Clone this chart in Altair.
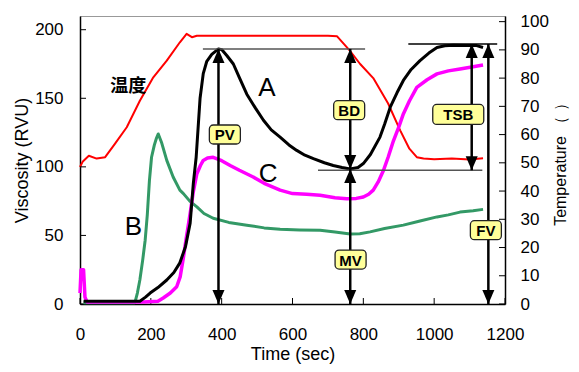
import altair as alt
import pandas as pd

# ---------------- data ----------------
# Curve A (black), viscosity RVU
a_time = [10, 50, 100, 150, 169, 185, 198, 220, 245, 265, 282, 298, 311, 320, 328, 339, 348, 358, 372, 386, 391,
          400, 415, 433, 450, 471, 495, 518, 540, 565, 590, 612, 635, 659, 690, 715, 740, 763, 785, 800, 820,
          847, 860, 876, 895, 913, 935, 960, 985, 1008, 1030, 1054, 1090, 1120, 1138]
a_visc = [2, 2, 2, 2, 2, 5, 8, 12, 17.5, 23, 30, 42, 59, 88, 107, 150, 168, 177, 182, 185, 186,
          185.5, 181, 175, 165, 153, 143, 134, 127, 121.7, 116, 112, 108.5, 106, 103, 101, 99.5, 98.5, 99.5, 102.4, 109,
          121.7, 131, 143.5, 154, 163, 171, 177.5, 183, 187, 188.3, 188.6, 188.5, 188.4, 187]

# Curve B (green)
b_time = [10, 50, 100, 140, 155, 162, 169, 177, 184, 190, 196, 202, 210, 216, 221, 230, 245, 263, 282, 292, 310,
          330, 350, 376, 420, 471, 520, 565, 620, 678, 720, 763, 790, 819, 860, 913, 960, 1008, 1040, 1073, 1110, 1138]
b_visc = [1, 1, 1, 1, 1, 8, 17.5, 32, 46.5, 65, 90, 107, 116, 121, 124, 118, 104.7, 92.6, 83, 80.5, 75,
          70.8, 66, 62.5, 59.5, 57.5, 55.5, 54.5, 54, 53.8, 52.5, 51, 51.2, 52.6, 55, 57.5, 60.5, 63.5, 65, 67, 68, 69]

# Curve C (magenta)
c_time = [0, 3, 10, 14, 20, 60, 120, 180, 220, 235, 255, 273, 283, 292, 300, 311, 320, 330, 340, 348, 360, 376,
          400, 424, 450, 489, 520, 565, 600, 640, 678, 720, 753, 780, 800, 815, 828, 842, 857, 870, 885, 900, 913,
          930, 951, 980, 1008, 1040, 1073, 1110, 1138]
c_visc = [8, 25, 25, 5, 1.5, 1.5, 1.5, 1.5, 2, 4.4, 8, 12.6, 20, 34, 48, 66, 82, 95, 101, 104.7, 106.5, 107,
          104.5, 101, 97.5, 92.6, 88, 83, 80.5, 80, 79.3, 77.5, 76.8, 77, 78, 80, 83, 89, 97.5, 107, 119, 129, 138.6,
          148, 158, 163.5, 167.8, 170, 171.4, 173, 174.3]

# Temperature (red), deg C on right axis
temp_time = [0, 8, 25, 47, 71, 99, 132, 169, 207, 245, 282, 301, 316, 330, 400, 500, 600, 700, 726, 760, 791,
             828, 870, 904, 930, 951, 970, 1000, 1050, 1100, 1138]
temp_val = [48.5, 50.5, 52.5, 51.5, 52, 56.8, 62.6, 72, 80.3, 86.2, 92.7, 95.7, 94.5, 95, 95, 95, 95, 95, 94.8, 90,
            85, 80, 71, 61.5, 55, 52, 51.5, 51.3, 51.5, 51.2, 51.6]

# Curve name labels
curve_names = ["A", "B", "C"]
curve_name_t = [528, 151, 531]
curve_name_v = [158.5, 56.6, 95.6]
temp_label = ["温度"]
temp_label_t = [136]
temp_label_v = [158.5]

# Reference lines (peak, trough, final)
ref_t1 = [347, 672, 927]
ref_t2 = [805, 1136, 1178]
ref_v = [186, 97.5, 189.6]
ref_color = ["#555555", "#555555", "#000000"]

# Double arrows
arrow_names = ["PV", "BD", "MV", "TSB", "FV"]
arrow_t = [391, 763, 763, 1106, 1153]
arrow_top = [186, 186, 98.5, 189.6, 189.6]
arrow_bottom = [0, 98.5, 0, 97.5, 0]

# Label boxes
box_names = ["PV", "BD", "MV", "TSB", "FV"]
box_t = [409, 760, 764, 1068, 1146]
box_v = [123.6, 141.3, 32.4, 138.2, 53.8]

x_ticks = [0, 200, 400, 600, 800, 1000, 1200]
visc_ticks = [0, 50, 100, 150, 200]
temp_ticks = [0, 10, 20, 30, 40, 50, 60, 70, 80, 90, 100]

# ---------------- chart ----------------
W, H = 425, 288
FONT = "Liberation Sans"
xs = alt.Scale(domain=[0, 1200], nice=False, zero=False)
vs = alt.Scale(domain=[0, 210], nice=False)
ts = alt.Scale(domain=[0, 102], nice=False)

x_axis = alt.Axis(values=x_ticks, orient="bottom", format="d", title="Time (sec)", labelFontSize=17,
                  labelFont=FONT, labelColor="black", labelPadding=22, ticks=False, tickSize=0,
                  domainColor="black", domainWidth=1.5, grid=False, labelFlush=False, labelOverlap=False,
                  titleFontSize=18, titleFont=FONT, titleFontWeight="normal", titleColor="black",
                  titleX=212.5, titleY=50, titleBaseline="middle", titleAlign="center")
v_axis = alt.Axis(values=visc_ticks, orient="left", format="d", title="Viscosity (RVU)", labelFontSize=17,
                  labelFont=FONT, labelColor="black", labelPadding=17, ticks=False, tickSize=0,
                  domainColor="black", domainWidth=1.5, grid=False, labelOverlap=False, labelFlush=False,
                  titleFontSize=18, titleFont=FONT, titleFontWeight="normal", titleColor="black",
                  titleAngle=270, titleX=-58, titleY=144, titleBaseline="middle", titleAlign="center")
t_axis = alt.Axis(values=temp_ticks, orient="right", format="d", title="Temperature （  ）", labelFontSize=17,
                  labelFont=FONT, labelColor="black", labelPadding=15, ticks=False, tickSize=0,
                  domainColor="black", domainWidth=1.5, grid=False, labelOverlap=False, labelFlush=False,
                  titleFontSize=16, titleFont=FONT, titleFontWeight="normal", titleColor="black",
                  titleAngle=270, titleX=55, titleY=144, titleBaseline="middle", titleAlign="center")


def X(field):
    return alt.X(field, scale=xs, axis=x_axis)


def YV(field):
    return alt.Y(field, scale=vs, axis=v_axis)


def YT(field):
    return alt.Y(field, scale=ts, axis=t_axis)


def line(times, vals, color, width, yfun):
    df = pd.DataFrame({"t": times, "v": vals})
    return alt.Chart(df).mark_line(color=color, strokeWidth=width, strokeJoin="round").encode(
        x=X("t:Q"), y=yfun("v:Q"))


# temperature group (right axis)
temp_line = line(temp_time, temp_val, "#ff0000", 2, YT)
temp_tick = alt.Chart(pd.DataFrame({"v": temp_ticks})).mark_rule(color="black", strokeWidth=1).encode(
    y=YT("v:Q"), x=alt.value(W), x2=alt.value(W - 6))
temp_group = alt.layer(temp_tick, temp_line)

# viscosity group (left axis)
left_tick = alt.Chart(pd.DataFrame({"v": visc_ticks})).mark_rule(color="black", strokeWidth=1).encode(
    y=YV("v:Q"), x=alt.value(0), x2=alt.value(6))
bottom_tick = alt.Chart(pd.DataFrame({"t": x_ticks})).mark_rule(color="black", strokeWidth=1).encode(
    x=X("t:Q"), y=alt.value(H), y2=alt.value(H - 6))

green = line(b_time, b_visc, "#339966", 3, YV)
magenta = line(c_time, c_visc, "#ff00ff", 3.5, YV)
black = line(a_time, a_visc, "#000000", 3, YV)

ref_df = pd.DataFrame({"t1": ref_t1, "t2": ref_t2, "v": ref_v, "c": ref_color})
refs = alt.Chart(ref_df).mark_rule(strokeWidth=1.5).encode(
    x=X("t1:Q"), x2="t2:Q", y=YV("v:Q"), color=alt.Color("c:N", scale=None))

arr_df = pd.DataFrame({"name": arrow_names, "t": arrow_t, "top": arrow_top, "bottom": arrow_bottom})
shafts = alt.Chart(arr_df).mark_rule(color="black", strokeWidth=2.5).encode(
    x=X("t:Q"), y=YV("top:Q"), y2="bottom:Q")
up_heads = alt.Chart(arr_df).mark_point(shape="M0,0L0.43,1L-0.43,1Z", filled=True, color="black",
                                        size=784, opacity=1).encode(x=X("t:Q"), y=YV("top:Q"))
down_heads = alt.Chart(arr_df).mark_point(shape="M0,0L0.43,-1L-0.43,-1Z", filled=True, color="black",
                                          size=784, opacity=1).encode(x=X("t:Q"), y=YV("bottom:Q"))

box_df = pd.DataFrame({"name": box_names, "t": box_t, "v": box_v})
small_boxes = alt.Chart(box_df).transform_filter("length(datum.name) < 3").mark_rect(
    width=31, height=19, cornerRadius=4, fill="#ffff99", stroke="#222222", strokeWidth=1.3).encode(
    x=X("t:Q"), y=YV("v:Q"))
wide_boxes = alt.Chart(box_df).transform_filter("length(datum.name) >= 3").mark_rect(
    width=51, height=20, cornerRadius=4, fill="#ffff99", stroke="#222222", strokeWidth=1.3).encode(
    x=X("t:Q"), y=YV("v:Q"))
box_text = alt.Chart(box_df).mark_text(font=FONT, fontWeight="bold", fontSize=15, color="black",
                                       align="center", baseline="middle", dy=1).encode(
    x=X("t:Q"), y=YV("v:Q"), text="name:N")

names_df = pd.DataFrame({"name": curve_names, "t": curve_name_t, "v": curve_name_v})
names = alt.Chart(names_df).mark_text(font=FONT, fontSize=26, color="black", align="center",
                                      baseline="middle", dy=1).encode(
    x=X("t:Q"), y=YV("v:Q"), text="name:N")

tl_df = pd.DataFrame({"name": temp_label, "t": temp_label_t, "v": temp_label_v})
tlabel = alt.Chart(tl_df).mark_text(font="Noto Sans CJK SC", fontWeight="bold", fontSize=18, color="black",
                                    align="center", baseline="middle").encode(
    x=X("t:Q"), y=YV("v:Q"), text="name:N")

visc_group = alt.layer(left_tick, bottom_tick, green, magenta, black, refs, shafts, up_heads, down_heads,
                       small_boxes, wide_boxes, box_text, names, tlabel)

chart = alt.layer(temp_group, visc_group).resolve_scale(y="independent").properties(
    width=W, height=H,
    autosize=alt.AutoSizeParams(type="none"),
    padding={"left": 72, "top": 8, "right": 66, "bottom": 60},
    background="white",
).configure_view(stroke="#999999", strokeWidth=1)

chart.save("out.html", embed_options={"renderer": "svg", "actions": False})
